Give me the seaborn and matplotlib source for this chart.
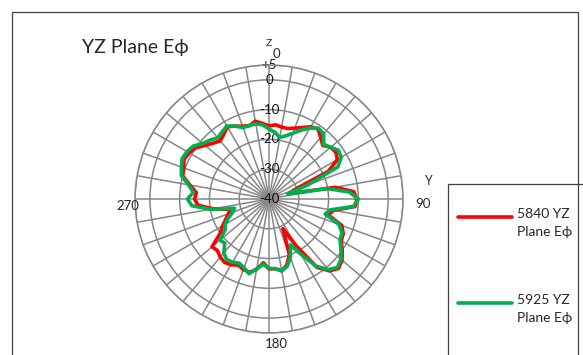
import numpy as np
import pandas as pd
import seaborn as sns
import matplotlib.pyplot as plt
from matplotlib.patches import Rectangle
from matplotlib.lines import Line2D

# angles in degrees, clockwise from Z (top)
angles = list(range(0, 360, 5))

# 5840 MHz, YZ plane E-phi (dB)
red_db = [-15.5, -15.0, -15.5, -15.5, -14.7, -13.5, -12.0, -11.3, -13.0, -14.5,
          -13.0, -12.6, -13.5, -18.0, -31.0, -33.0, -17.4, -11.5, -10.5, -11.0,
          -18.0, -19.5, -14.0, -12.5, -12.0, -10.0, -8.0, -7.0, -8.5, -12.0,
          -22.0, -29.0, -20.0, -17.0, -15.5, -16.5, -16.5, -18.5, -16.0, -14.5,
          -14.8, -15.5, -14.5, -14.0, -14.5, -15.5, -15.0, -20.0, -22.0, -24.0,
          -25.5, -26.5, -21.0, -16.0, -15.0, -15.5, -13.0, -10.0, -9.5, -8.5,
          -9.0, -10.0, -12.0, -13.5, -14.5, -13.5, -12.0, -13.0, -14.0, -14.5,
          -13.5, -14.5]

# 5925 MHz, YZ plane E-phi (dB)
green_db = [-16.5, -17.5, -19.0, -18.0, -16.5, -14.5, -12.5, -11.0, -11.5, -14.0,
            -13.0, -11.5, -12.0, -14.5, -26.0, -33.5, -20.0, -13.0, -10.0, -11.5,
            -19.0, -20.5, -15.0, -13.0, -12.5, -10.5, -8.5, -7.5, -9.0, -12.5,
            -18.5, -23.0, -19.0, -16.5, -15.5, -16.5, -16.7, -18.0, -16.2, -14.0,
            -15.5, -16.2, -15.5, -15.2, -16.4, -19.0, -18.5, -22.0, -23.0, -25.0,
            -27.0, -28.0, -20.0, -14.0, -12.6, -14.5, -12.5, -9.5, -8.7, -7.8,
            -8.2, -9.0, -11.0, -12.0, -13.2, -12.5, -11.7, -13.0, -14.5, -14.5,
            -14.4, -15.0]

series_names = ["5840 YZ\nPlane E\u03d5", "5925 YZ\nPlane E\u03d5"]
colors = ["#FF0000", "#00B050"]
ring_values = [-30, -20, -10, 0, 5]
ring_labels = ["-40", "-30", "-20", "-10", "0", "+5"]
cardinal_angles = [3, 92, 177, 267]
cardinal_labels = ["0", "90", "180", "270"]

rows = []
for name, vals in zip(series_names, [red_db, green_db]):
    for a, v in zip(angles + [360], vals + [vals[0]]):
        rows.append({"theta": np.deg2rad(a), "db": v, "series": name})
df = pd.DataFrame(rows)

sns.set_style("white")
plt.rcParams["font.family"] = ["Lato", "DejaVu Sans"]

fig = plt.figure(figsize=(5.83, 3.55), dpi=100)
ax = fig.add_axes([0.2316, 0.062, 0.4597, 0.755], projection="polar")
ax.set_theta_zero_location("N")
ax.set_theta_direction(-1)

sns.lineplot(data=df, x="theta", y="db", hue="series", palette=colors,
             sort=False, estimator=None, linewidth=2.6, ax=ax, legend=False)

ax.set_ylim(-40, 5)
ax.set_yticks(ring_values)
ax.set_yticklabels([])
ax.set_xticks(np.deg2rad(np.arange(0, 360, 10)))
ax.set_xticklabels([])
ax.grid(True, color="#868686", linewidth=1.1)
ax.spines["polar"].set_color("#868686")
ax.spines["polar"].set_linewidth(1.1)
ax.set_xlabel("")
ax.set_ylabel("")
for ln in ax.lines:
    ln.set_zorder(3)

# radial labels along the vertical axis
for v, lab in zip([-40] + ring_values, ring_labels):
    ax.text(0, v, lab, fontsize=9.5, ha="center", va="center", color="#111111", zorder=1)

# category labels at the four cardinal directions
for a, lab, r in zip(cardinal_angles, cardinal_labels, [8.6, 11.8, 8.6, 7.5]):
    ax.text(np.deg2rad(a), r, lab, fontsize=9.5, ha="center", va="center")

ax.text(0, 12.3, "Z", fontsize=7.5, ha="center", va="center")
ax.text(np.deg2rad(83.5), 13.7, "Y", fontsize=9, ha="center", va="center")

fig.text(0.141, 0.865, "YZ Plane E\u03d5", fontsize=14, ha="left", va="center")

# chart area border and legend box
fig.add_artist(Rectangle((12 / 583, -0.1), (578 - 12) / 583, 1.1 - 12 / 355,
                         transform=fig.transFigure, fill=False,
                         edgecolor="#404040", linewidth=0.9))
fig.add_artist(Rectangle((448 / 583, -0.1), 0.3, 0.1 + (355 - 184) / 355,
                         transform=fig.transFigure, fill=False,
                         edgecolor="#404040", linewidth=0.9))
for i, (name, c) in enumerate(zip(series_names, colors)):
    y = (355 - 217 - i * 86) / 355
    fig.add_artist(Line2D([458 / 583, 512 / 583], [y, y], color=c, linewidth=2.6,
                          solid_capstyle="round", transform=fig.transFigure))
    fig.text(517 / 583, y + 0.026, name, fontsize=10, ha="left", va="top",
             linespacing=1.6)

fig.savefig("out.png", dpi=100)
